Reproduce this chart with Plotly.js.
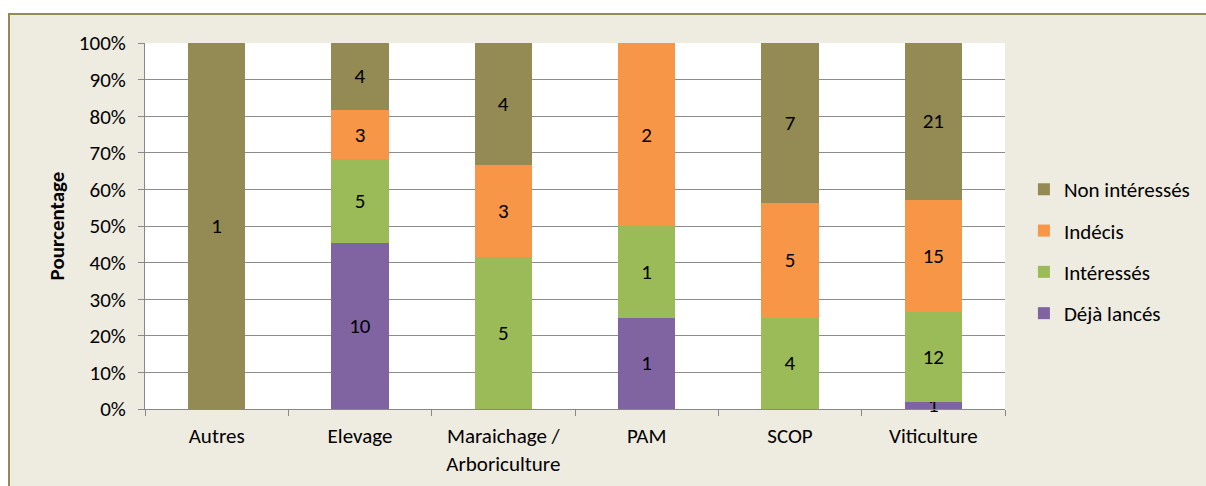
<!DOCTYPE html>
<html>
<head>
<meta charset="utf-8">
<script src="https://cdn.plot.ly/plotly-3.0.1.min.js"></script>
<style>
  html, body { margin: 0; padding: 0; background: #ffffff; }
  #frame { position: absolute; left: 8px; top: 13px; width: 1210px; height: 480px;
           background: #EEEBE0; border-left: 2px solid #948A54; border-top: 2px solid #948A54; }
  #chart { position: absolute; left: 0; top: 0; width: 1206px; height: 486px; }
</style>
</head>
<body>
<div id="frame"></div>
<div id="chart"></div>
<script>
const categories = ["Autres", "Elevage", "Maraichage /<br>Arboriculture", "PAM", "SCOP", "Viticulture"];
const dejaLances = [0, 10, 0, 1, 0, 1];
const interesses = [0, 5, 5, 1, 4, 12];
const indecis = [0, 3, 3, 2, 5, 15];
const nonInteresses = [1, 4, 4, 0, 7, 21];
const yTickValues = [0, 10, 20, 30, 40, 50, 60, 70, 80, 90, 100];

const FONT = "Calibri, Carlito, 'Liberation Sans', Arial, sans-serif";
const FS = 21;

function mk(name, vals, color, rank) {
  return {
    type: 'bar', name: name, x: categories, y: vals,
    text: vals.map(v => v ? String(v) : ''),
    textposition: 'inside', insidetextanchor: 'middle', textangle: 0,
    constraintext: 'none', cliponaxis: false,
    textfont: {family: FONT, size: FS, color: '#000000'},
    marker: {color: color, line: {width: 0}},
    legendgroup: 'g' + rank, legendrank: rank, hoverinfo: 'skip'
  };
}

const data = [
  mk('Déjà lancés', dejaLances, '#8064A2', 4),
  mk('Intéressés', interesses, '#9BBB59', 3),
  mk('Indécis', indecis, '#F79646', 2),
  mk('Non intéressés', nonInteresses, '#948A54', 1)
];

const layout = {
  width: 1206, height: 486,
  margin: {l: 145, r: 201, t: 43, b: 77, autoexpand: false},
  paper_bgcolor: 'rgba(0,0,0,0)', plot_bgcolor: '#ffffff',
  barmode: 'stack', barnorm: 'percent', bargap: 0.6,
  font: {family: FONT, size: FS, color: '#000000'},
  showlegend: true,
  legend: {x: 1.022, xanchor: 'left', y: 0.43, yanchor: 'middle',
           traceorder: 'grouped', tracegroupgap: 11,
           bgcolor: 'rgba(0,0,0,0)', font: {family: FONT, size: FS, color: '#000000'}},
  xaxis: {type: 'category', tickson: 'boundaries', ticks: 'outside', ticklen: 6,
          tickcolor: '#888888', showline: true, linecolor: '#888888', linewidth: 1,
          showgrid: false, ticklabelstandoff: 8, tickfont: {family: FONT, size: FS, color: '#000000'}},
  yaxis: {range: [0, 100.0005], tickvals: yTickValues, ticktext: yTickValues.map(v => v + '%'),
          ticks: 'outside', ticklen: 6, tickcolor: '#888888',
          showline: true, linecolor: '#888888', linewidth: 1,
          showgrid: true, gridcolor: '#8c8c8c', gridwidth: 1, zeroline: false,
          ticklabelstandoff: 8, tickfont: {family: FONT, size: FS, color: '#000000'},
          title: {text: '<b>Pourcentage</b>', standoff: 8, font: {family: FONT, size: FS, color: '#000000'}}}
};

Plotly.newPlot('chart', data, layout, {displayModeBar: false, staticPlot: true});
</script>
</body>
</html>
